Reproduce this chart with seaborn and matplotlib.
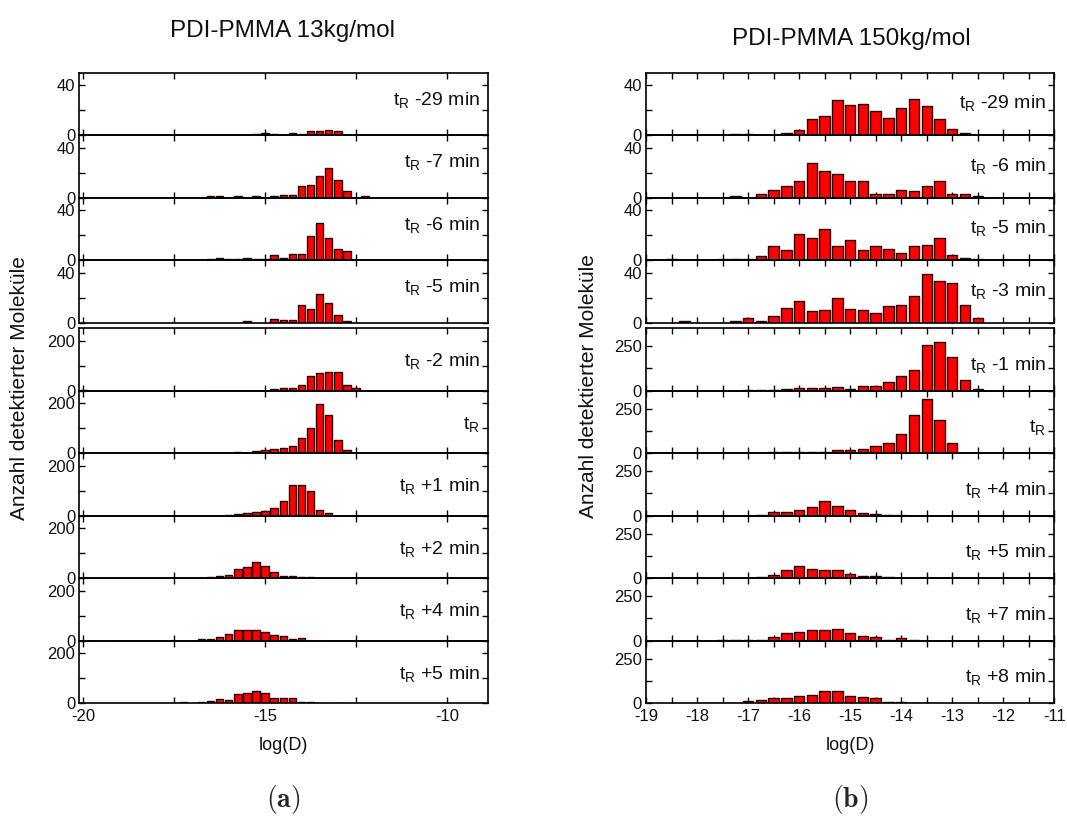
import matplotlib
matplotlib.use("Agg")
import matplotlib.pyplot as plt
import numpy as np
import pandas as pd
import seaborn as sns
from matplotlib.ticker import MultipleLocator, FixedLocator

# ---------------- data ----------------
# bin centres of log(D)
bins_a = [-20.0, -19.75, -19.5, -19.25, -19.0, -18.75, -18.5, -18.25, -18.0, -17.75,
          -17.5, -17.25, -17.0, -16.75, -16.5, -16.25, -16.0, -15.75, -15.5, -15.25,
          -15.0, -14.75, -14.5, -14.25, -14.0, -13.75, -13.5, -13.25, -13.0, -12.75,
          -12.5, -12.25, -12.0]
bins_b = [-19.0, -18.75, -18.5, -18.25, -18.0, -17.75, -17.5, -17.25, -17.0, -16.75,
          -16.5, -16.25, -16.0, -15.75, -15.5, -15.25, -15.0, -14.75, -14.5, -14.25,
          -14.0, -13.75, -13.5, -13.25, -13.0, -12.75, -12.5, -12.25]

# panel (a): PDI-PMMA 13 kg/mol
a_m29 = [0,0,0,0,0,0,0,0,0,0, 0,0,0,0,0,0,0,0,0,1, 2,1,0,2,1,3,3,4,3,0, 0,0,0]
a_m7  = [0,0,0,0,0,0,0,0,0,0, 0,0,0,0,1,1,0,1,0,1, 0,1,2,2,9,10,17,24,14,5, 0,1,0]
a_m6  = [0,0,0,0,0,0,0,0,0,0, 0,0,0,0,1,2,1,1,2,1, 1,4,2,5,5,19,30,18,9,7, 0,0,0]
a_m5  = [0,0,0,0,0,0,0,0,0,0, 0,0,0,0,0,0,0,0,1,0, 0,3,2,2,14,11,23,16,6,1, 0,0,0]
a_m2  = [2,0,0,0,0,0,0,0,0,0, 0,0,0,0,1,1,1,1,1,1, 1,7,12,13,25,60,70,77,75,23, 12,0,0]
a_t0  = [0,0,0,0,0,0,0,0,0,0, 0,0,0,0,0,1,1,5,1,9, 13,16,21,29,61,103,199,155,52,12, 1,0,0]
a_p1  = [0,0,0,0,0,0,0,0,0,0, 0,0,0,1,1,1,4,8,12,17, 21,32,59,124,124,99,25,12,0,0, 0,0,0]
a_p2  = [0,0,0,1,0,0,0,0,0,0, 0,1,1,3,5,9,15,36,47,64, 49,24,11,8,5,4,0,0,0,0, 0,0,0]
a_p4  = [0,0,1,0,0,0,0,0,0,0, 0,1,1,8,8,16,27,43,45,43, 37,24,19,7,11,0,1,0,0,0, 0,0,0]
a_p5  = [0,0,0,0,0,0,0,0,0,0, 1,5,0,5,9,17,13,36,40,51, 40,23,20,20,7,5,2,0,1,0, 0,0,0]

# panel (b): PDI-PMMA 150 kg/mol
b_m29 = [0,0,0,0,0,0,0,1,1,0, 0,2,4,13,15,28,24,25,19,14, 22,29,23,13,5,2,0,0]
b_m6  = [0,0,0,0,0,0,0,1,0,3, 6,9,13,28,21,19,13,13,3,3, 6,5,9,13,3,3,1,0]
b_m5  = [0,0,1,0,0,0,1,1,1,3, 11,8,21,18,25,11,16,8,11,9, 6,11,12,18,4,2,1,0]
b_m3  = [0,0,0,1,0,0,0,1,4,1, 5,12,17,9,10,20,11,10,8,13, 14,21,39,33,32,14,4,0]
b_m1  = [0,0,0,0,0,0,0,0,5,5, 2,11,15,15,17,20,11,28,28,49, 83,115,257,274,190,58,11,0]
b_t0  = [0,0,0,0,0,1,1,1,3,2, 7,7,7,7,7,17,19,23,41,60, 109,216,306,184,58,2,0,0]
b_p4  = [0,0,0,1,0,0,0,1,1,7, 19,22,32,47,82,54,30,17,9,7, 2,0,0,0,0,0,0,0]
b_p5  = [0,0,0,0,1,1,1,2,3,7, 17,45,68,53,45,45,23,15,11,6, 4,0,0,1,0,0,0,0]
b_p7  = [0,1,0,0,0,0,2,5,7,5, 20,43,47,58,62,64,43,26,20,7, 13,3,0,0,0,0,0,0]
b_p8  = [0,0,0,0,0,1,1,3,11,17, 30,32,41,49,68,68,43,38,28,9, 7,2,2,0,0,0,0,0]

labels_a = ["-29 min", "-7 min", "-6 min", "-5 min", "-2 min", "", "+1 min", "+2 min", "+4 min", "+5 min"]
labels_b = ["-29 min", "-6 min", "-5 min", "-3 min", "-1 min", "", "+4 min", "+5 min", "+7 min", "+8 min"]
rows_a = [a_m29, a_m7, a_m6, a_m5, a_m2, a_t0, a_p1, a_p2, a_p4, a_p5]
rows_b = [b_m29, b_m6, b_m5, b_m3, b_m1, b_t0, b_p4, b_p5, b_p7, b_p8]

title_a = "PDI-PMMA 13kg/mol"
title_b = "PDI-PMMA 150kg/mol"
ylabel = "Anzahl detektierter Moleküle"
xlabel = "log(D)"

# ---------------- style ----------------
sns.set_theme(style="ticks")
plt.rcParams["font.family"] = ["Liberation Sans", "DejaVu Sans"]
plt.rcParams["axes.linewidth"] = 1.2
plt.rcParams["axes.unicode_minus"] = False

W, H = 1067, 823
fig = plt.figure(figsize=(W / 100, H / 100), dpi=100)
fig.patch.set_facecolor("white")

row_h = 62.5
tops_top = [72.7 + row_h * i for i in range(4)]
tops_bot = [328.3 + row_h * i for i in range(6)]
tops = tops_top + tops_bot


def draw_panel(x0, x1, bins, rows, labels, xlim, xmaj, xmin, ylim_top, ylim_bot,
               ymaj_top, ymaj_bot, text_y_top, text_y_bot):
    axes = []
    for i, (t, vals, lab) in enumerate(zip(tops, rows, labels)):
        ax = fig.add_axes([x0 / W, 1 - (t + row_h) / H, (x1 - x0) / W, row_h / H])
        df = pd.DataFrame({"logD": bins, "n": vals})
        df = df[df["n"] > 0]
        sns.barplot(data=df, x="logD", y="n", native_scale=True, width=0.82,
                    color="#ff0000", saturation=1, edgecolor="#2a0000",
                    linewidth=1.0, errorbar=None, ax=ax)
        ax.set_xlabel("")
        ax.set_ylabel("")
        ax.set_xlim(*xlim)
        top_group = i < 4
        ax.set_ylim(0, ylim_top if top_group else ylim_bot)
        ym = ymaj_top if top_group else ymaj_bot
        ax.yaxis.set_major_locator(FixedLocator([0, ym]))
        ax.yaxis.set_minor_locator(FixedLocator([ym / 2]))
        ax.xaxis.set_major_locator(MultipleLocator(xmaj))
        ax.xaxis.set_minor_locator(MultipleLocator(xmin))
        ax.tick_params(which="both", direction="in", top=True, right=True,
                       bottom=True, left=True, length=4, width=1.0, color="black")
        ax.tick_params(axis="y", labelsize=12, pad=3, labelcolor="#111111")
        ax.tick_params(axis="x", labelsize=12, pad=4, labelcolor="#111111",
                       labelbottom=(i == len(rows) - 1))
        for s in ax.spines.values():
            s.set_color("black")
            s.set_linewidth(1.2)
        ax.set_facecolor("none")
        txt = r"$\mathregular{t_R}$" + (" " + lab if lab else "")
        ax.text(0.98, text_y_top if top_group else text_y_bot, txt,
                transform=ax.transAxes, ha="right", va="baseline", fontsize=14,
                color="#111111")
        axes.append(ax)
    return axes


draw_panel(79.3, 488.0, bins_a, rows_a, labels_a, (-20.11, -8.87), 5, 2.5,
           50, 250, 40, 200, 0.49, 0.39)
draw_panel(646.1, 1054.3, bins_b, rows_b, labels_b, (-19.0, -11.0), 1, 0.5,
           50, 350, 40, 250, 0.43, 0.34)

# titles, axis labels, panel letters
fig.text(283 / W, 1 - 31 / H, title_a, ha="center", va="center", fontsize=17.5, color="#111111")
fig.text(851 / W, 1 - 39 / H, title_b, ha="center", va="center", fontsize=17.5, color="#111111")
fig.text(20 / W, 1 - 388 / H, ylabel, rotation=90, ha="center", va="center", fontsize=15, color="#111111")
fig.text(588 / W, 1 - 386 / H, ylabel, rotation=90, ha="center", va="center", fontsize=15, color="#111111")
fig.text(283.6 / W, 1 - 745 / H, xlabel, ha="center", va="center", fontsize=13, color="#111111")
fig.text(850 / W, 1 - 745 / H, xlabel, ha="center", va="center", fontsize=13, color="#111111")
fig.text(283 / W, 1 - 800 / H, r"$\mathbf{(a)}$", ha="center", va="center", fontsize=20,
         math_fontfamily="cm")
fig.text(850 / W, 1 - 800 / H, r"$\mathbf{(b)}$", ha="center", va="center", fontsize=20,
         math_fontfamily="cm")

fig.savefig("out.png", dpi=100, facecolor="white")
